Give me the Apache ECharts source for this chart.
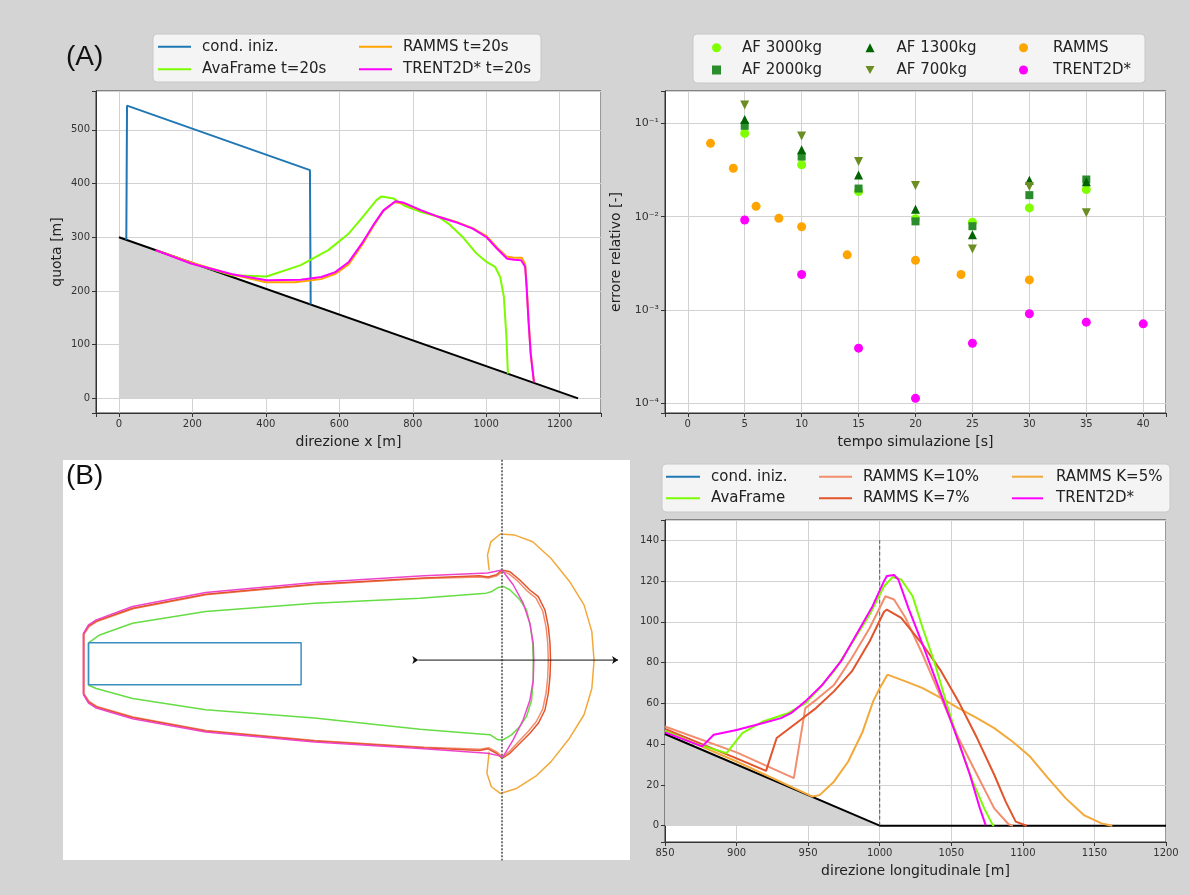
<!DOCTYPE html>
<html><head><meta charset="utf-8">
<script src="https://cdn.jsdelivr.net/npm/echarts@6/dist/echarts.min.js"></script>
<style>html,body{margin:0;padding:0;background:#d4d4d4}#c{width:1189px;height:895px}</style>
</head><body><div id="c"></div>
<script>
// ---------- Panel (A) left: longitudinal profile ----------
const terrainA = [[0,300],[1250,0]];
const condA = [[20,295.2],[22,545],[520,425],[522,174.7]];
const avaA = [[150,264],[196,252],[308,229],[402,227],[495,248],[570,276],[626,307],[664,338],[701,369],[715,376],[748,372],[776,359],[823,347],[870,338],[898,325],[935,301],[973,270],[1001,254],[1024,245],[1038,226],[1048,189],[1055,114],[1059,46]];
const rammsA = [[100,276],[200,252],[300,232],[400,216],[480,216],[550,222],[590,232],[626,250],[664,288],[692,320],[720,349],[750,365],[776,363],[823,350],[870,338],[917,329],[963,317],[1001,302],[1029,281],[1055,264],[1075,262],[1097,262],[1106,250],[1110,210],[1115,150],[1121,85],[1130,30]];
const trentA = [[100,276],[196,251],[308,231],[402,220],[495,221],[551,226],[589,235],[626,254],[664,291],[692,322],[720,350],[753,367],[776,364],[823,350],[870,338],[917,328],[963,316],[1001,300],[1029,279],[1057,260],[1076,258],[1095,257],[1106,245],[1110,207],[1115,145],[1121,83],[1130,30]];

// ---------- Panel (A) right: relative error ----------
const tAF = [5,10,15,20,25,30,35];
const af3000 = [0.078,0.036,0.0186,0.0095,0.0087,0.0124,0.0195];
const af2000 = [0.094,0.044,0.020,0.0089,0.0079,0.017,0.025];
const af1300 = [0.11,0.052,0.028,0.012,0.0064,0.0245,0.0237];
const af700  = [0.157,0.073,0.039,0.0215,0.0045,0.021,0.011];
const tRamms = [2,4,6,8,10,14,20,24,30];
const rammsErr = [0.061,0.033,0.0129,0.0096,0.0078,0.0039,0.0034,0.0024,0.0021];
const tTrent = [5,10,15,20,25,30,35,40];
const trentErr = [0.0092,0.0024,0.00039,0.000113,0.00044,0.00091,0.00074,0.00071];

// ---------- Panel (B) left: plan view outlines ----------
const planInit = [[259,38],[640,38],[640,-37],[259,-37],[259,38]];
const planTrent = [[250,-55],[250,55],[259,70],[273,79],[338,103],[469,128],[664,146],[860,158],[974,163],[1000,168.5],[1020,142],[1038,109],[1050,73],[1056,37],[1057,7],[1056,-29],[1050,-65],[1038,-100],[1020,-136],[1002,-166],[974,-160],[860,-152],[664,-140],[469,-122],[338,-98],[273,-79],[259,-70],[250,-55]];
const planK7 = [[250,-54],[250,54],[259,68],[273,77],[338,100],[469,125],[664,143],[860,154],[960,158],[975,156],[990,160],[1000,168.5],[1014,165.5],[1032,150.6],[1050,132.6],[1065,120.7],[1077,96.8],[1083,66.9],[1086,37.1],[1087,7.2],[1086,-22.7],[1083,-52.6],[1077,-82.4],[1065,-106.3],[1050,-124.2],[1032,-142.2],[1014,-160],[1000,-169],[990,-160],[975,-152],[960,-155],[860,-150],[664,-138],[469,-120],[338,-96],[273,-77],[259,-68],[250,-54]];
const planK10 = [[251,-53],[251,53],[260,67],[274,76],[339,99],[470,124],[665,142],[861,153],[961,156],[976,154],[991,158],[1000,166],[1012,162],[1029,148],[1046,130],[1061,118],[1073,95],[1079,66],[1082,37],[1083,7],[1082,-23],[1079,-52],[1073,-81],[1061,-104],[1046,-122],[1029,-140],[1012,-158],[1000,-166],[991,-158],[976,-150],[961,-153],[861,-149],[665,-137],[470,-119],[339,-95],[274,-76],[260,-67],[251,-53]];
const planAva = [[259,-38],[259,38],[279,52],[338,73],[469,94],[664,109],[853,118],[972,127],[982,130],[993,137],[1002,139],[1014,133],[1032,115],[1044,97],[1051,67],[1055,37],[1056,7],[1056,-29],[1053,-65],[1044,-94],[1032,-112],[1017,-127],[1002,-136],[993,-136],[979,-127],[943,-124],[853,-117],[664,-97],[469,-82],[338,-62],[273,-44],[259,-38]];
const planK5 = [[977,168],[974,195],[980,219],[997,233],[1023,231],[1055,219],[1088,189],[1121,148],[1147,106],[1161,58],[1165,6],[1161,-44],[1147,-91],[1121,-133],[1088,-175],[1062,-200],[1026,-223],[997,-232],[981,-220],[973,-196],[976,-166],[977,-157]];
const planArrow = [[850,7],[1208,7]];
const planSection = [[1000,366],[1000,-352]];

// ---------- Panel (B) right: section profile ----------
const terrainB = [[850,45],[1000,0],[1200,0]];
const sectionB = [[1000,0],[1000,140]];
const avaB = [[850,46.5],[870,40.5],[893,35.6],[904,45.4],[918,51],[936,55.2],[948,60],[958,67.5],[968,75.7],[980,88.9],[993,103.6],[1003,117.5],[1009,122],[1015,120.8],[1023,112.6],[1030,97],[1038,80.7],[1045,64],[1055,41],[1065,21.6],[1073,8.5],[1079,0.3],[1080,0]];
const k10B = [[850,48.7],[900,36],[940,23.3],[948,57.7],[956,62],[968,69],[980.5,82.3],[993,97],[1004,112.6],[1010,111],[1018,102],[1030,84],[1043,62.6],[1055,43],[1068,25],[1080,8.5],[1090,0.7],[1093,0]];
const k7B = [[850,47.5],[900,33],[920.6,26.9],[928,43],[943,51],[955.5,57.7],[968,65.9],[980.5,75.7],[993,90.5],[1003,105],[1005,106],[1015,102],[1030,88.9],[1043,75.7],[1055,61],[1068,43],[1080,25],[1088,11.8],[1095,2],[1102.7,0]];
const k5B = [[850,46.5],[900,31.5],[953,14.3],[958,15],[968,21.6],[978,31.5],[988,46],[995.4,61],[1000,67.5],[1005.4,74.1],[1018,70.8],[1030,67.5],[1043,62.6],[1055,57.7],[1068,52.8],[1080,47.9],[1092.7,41.3],[1105,33.9],[1117.6,23.3],[1130,13.4],[1142.6,5.2],[1155,1.1],[1162.5,0]];
const trentB = [[850,45.8],[876,38.9],[884,44.6],[900,47],[918,50.3],[931,52.8],[938,55.2],[948,61],[960,69.2],[973,80.7],[985,95.4],[995,107.7],[1003,120],[1005,122.5],[1010,123],[1013,120.8],[1020,106.9],[1030,88.9],[1043,64.3],[1055,41.3],[1063,25],[1070,8.5],[1074,0.3]];
const condB = [];

// ---------- texts ----------
const axisNames = {xA:'direzione x [m]', yA:'quota [m]', xE:'tempo simulazione [s]', yE:'errore relativo [-]', xB:'direzione longitudinale [m]'};

const FONT = 'DejaVu Sans';
const COL = {blue:'#1f77b4', ava:'#7cfc00', ramms:'#ffa500', trent:'#ff00ff', k10:'#f28e6e', k7:'#e2542b', k5:'#f3a93a',
  af3000:'#7fff00', af2000:'#2a8c2a', af1300:'#006400', af700:'#6b8e23'};

function stepFmt(step){ return v => (Math.abs(v/step - Math.round(v/step)) < 1e-6 ? String(Math.round(v)) : ''); }
const SUP = {'-':'\u207b','0':'\u2070','1':'\u00b9','2':'\u00b2','3':'\u00b3','4':'\u2074','5':'\u2075','6':'\u2076','7':'\u2077','8':'\u2078','9':'\u2079'};
function logFmt(v){ const l = Math.log10(v); const e = Math.round(l); if (Math.abs(l-e) > 1e-6) return ''; return '10' + String(e).split('').map(c=>SUP[c]).join(''); }
function lab(fmt, size){ return {fontSize:size||10, color:'#333', fontFamily:FONT, margin:6, formatter:fmt}; }

function vAxis(gi, o){
  return Object.assign({
    type:'value', gridIndex:gi,
    axisLine:{show:true, onZero:false, lineStyle:{color:'#333'}},
    axisTick:{show:true, length:4, lineStyle:{color:'#333'}},
    axisLabel:lab(v => String(v)),
    splitLine:{show:true, lineStyle:{color:'#d2d2d2', width:1}},
    nameLocation:'middle',
    nameTextStyle:{fontSize:14, color:'#222', fontFamily:FONT}
  }, o);
}
function hidden(gi, o){ return Object.assign({type:'value', gridIndex:gi, show:false, axisLine:{show:false}, axisTick:{show:false}, axisLabel:{show:false}, splitLine:{show:false}}, o); }

function line(name, data, color, gi, extra){
  return Object.assign({type:'line', name, data, xAxisIndex:gi, yAxisIndex:gi, symbol:'none', showSymbol:false,
    lineStyle:{color, width:2}, itemStyle:{color}, animation:false, silent:true}, extra||{});
}
function zipXY(xs, ys){ return xs.map((x,i)=>[x, ys[i]]); }
function scat(name, xs, ys, color, symbol, size, extra){
  return Object.assign({type:'scatter', name, data:zipXY(xs,ys), xAxisIndex:1, yAxisIndex:1, symbol, symbolSize:size,
    itemStyle:{color, opacity:1}, animation:false, silent:true}, extra||{});
}

const series = [
  // A left
  line('terrainA', terrainA, '#000', 0, {areaStyle:{color:'#d3d3d3', opacity:1}, z:1}),
  line('cond. iniz.', condA, COL.blue, 0),
  line('AvaFrame t=20s', avaA, COL.ava, 0),
  line('RAMMS t=20s', rammsA, COL.ramms, 0),
  line('TRENT2D* t=20s', trentA, COL.trent, 0),
  // A right
  scat('AF 3000kg', tAF, af3000, COL.af3000, 'circle', 9),
  scat('AF 2000kg', tAF, af2000, COL.af2000, 'rect', 8),
  scat('AF 1300kg', tAF, af1300, COL.af1300, 'triangle', 9),
  scat('AF 700kg', tAF, af700, COL.af700, 'triangle', 9, {symbolRotate:180}),
  scat('RAMMS', tRamms, rammsErr, COL.ramms, 'circle', 9),
  scat('TRENT2D*', tTrent, trentErr, COL.trent, 'circle', 9),
  // B left (plan)
  line('plan K5', planK5, COL.k5, 2, {lineStyle:{color:COL.k5, width:1.5}}),
  line('plan Ava', planAva, '#66dd44', 2, {lineStyle:{color:'#66dd44', width:1.5}}),
  line('plan K10', planK10, COL.k10, 2, {lineStyle:{color:COL.k10, width:1.5}}),
  line('plan K7', planK7, COL.k7, 2, {lineStyle:{color:COL.k7, width:1.5}}),
  line('plan Trent', planTrent, '#ee44cc', 2, {lineStyle:{color:'#ee44cc', width:1.5}}),
  line('plan init', planInit, '#3b8fc0', 2, {lineStyle:{color:'#3b8fc0', width:1.5}}),
  line('plan section', planSection, '#777', 2, {lineStyle:{color:'#777', width:2, type:[2,1.5]}}),
  line('plan arrow', planArrow, '#111', 2, {symbol:'arrow', symbolSize:6, symbolRotate:-90, showSymbol:true, lineStyle:{color:'#111', width:1}}),
  // B right
  line('terrainB', terrainB, '#000', 3, {areaStyle:{color:'#d3d3d3', opacity:1}, z:1}),
  line('sectionB', sectionB, '#555', 3, {lineStyle:{color:'#555', width:1, type:'dashed'}}),
  line('cond. iniz. #B', condB, COL.blue, 3),
  line('RAMMS K=5% #B', k5B, COL.k5, 3),
  line('RAMMS K=10% #B', k10B, COL.k10, 3),
  line('RAMMS K=7% #B', k7B, COL.k7, 3),
  line('AvaFrame #B', avaB, COL.ava, 3),
  line('TRENT2D* #B', trentB, COL.trent, 3)
];

function leg(item, left, cy, iw, ih, pad){
  return {data:[item], left, top: cy - 8, orient:'vertical', itemWidth:iw, itemHeight:ih, selectedMode:false,
    padding:0, formatter: n => n.split(' #')[0],
    textStyle:{fontSize:15, color:'#222', fontFamily:FONT, lineHeight:16, padding:[0,0,0,pad]}};
}
function lineLeg(name, left, cy, iw, pad){ return leg({name, icon:'rect'}, left, cy, iw, 2, pad); }
function mkLeg(name, left, cy, pad, icon){ return leg(icon ? {name, icon} : {name}, left, cy, 9, 9, pad); }
const legends = [
  lineLeg('cond. iniz.', 158, 46.7, 33, 6), lineLeg('AvaFrame t=20s', 158, 69.3, 33, 6),
  lineLeg('RAMMS t=20s', 359, 46.7, 33, 6), lineLeg('TRENT2D* t=20s', 359, 69.3, 33, 6),
  mkLeg('AF 3000kg', 712, 47.7, 16), mkLeg('AF 2000kg', 712, 70, 16),
  mkLeg('AF 1300kg', 865.5, 47.7, 17), mkLeg('AF 700kg', 865.5, 70, 17, 'path://M0,0L10,0L5,9Z'),
  mkLeg('RAMMS', 1019, 47.7, 20), mkLeg('TRENT2D*', 1019, 70, 20),
  lineLeg('cond. iniz. #B', 666, 476.7, 34, 6), lineLeg('AvaFrame #B', 666, 498.3, 34, 6),
  lineLeg('RAMMS K=10% #B', 819, 476.7, 33, 6), lineLeg('RAMMS K=7% #B', 819, 498.3, 33, 6),
  lineLeg('RAMMS K=5% #B', 1012, 476.7, 31, 8), lineLeg('TRENT2D* #B', 1012, 498.3, 31, 8)
];

const boxStyle = {fill:'rgba(255,255,255,0.75)', stroke:'#c8c8c8', lineWidth:1};
const option = {
  backgroundColor:'#d4d4d4',
  animation:false,
  grid:[
    {left:96, top:91, width:505, height:322, show:true, backgroundColor:'#fff', borderColor:'#333', borderWidth:1},
    {left:665, top:91, width:501, height:322, show:true, backgroundColor:'#fff', borderColor:'#333', borderWidth:1},
    {left:63, top:460, width:567, height:400, show:true, backgroundColor:'#fff', borderWidth:0},
    {left:665, top:520, width:501, height:322, show:true, backgroundColor:'#fff', borderColor:'#333', borderWidth:1}
  ],
  xAxis:[
    vAxis(0, {min:-62.5, max:1312.5, splitNumber:7, name:axisNames.xA, nameGap:22, axisLabel:lab(stepFmt(200))}),
    vAxis(1, {min:-2, max:42, splitNumber:9, name:axisNames.xE, nameGap:22, axisLabel:lab(stepFmt(5))}),
    hidden(2, {min:213.3, max:1229.4}),
    vAxis(3, {min:850, max:1200, interval:50, name:axisNames.xB, nameGap:22, axisLabel:lab(stepFmt(50))})
  ],
  yAxis:[
    vAxis(0, {min:-27.25, max:572.25, splitNumber:6, name:axisNames.yA, nameGap:32, axisLabel:lab(stepFmt(100))}),
    vAxis(1, {type:'log', logBase:10, min:7.87e-5, max:0.222, name:axisNames.yE, nameGap:42, axisLabel:lab(logFmt, 11)}),
    hidden(2, {min:-351.3, max:365.6}),
    vAxis(3, {min:-8, max:150, splitNumber:8, axisLabel:lab(stepFmt(20))})
  ],
  legend: legends,
  graphic:[
    {type:'rect', shape:{x:153, y:34, width:388, height:48, r:4}, style:boxStyle, z:0},
    {type:'rect', shape:{x:693, y:34, width:452, height:49, r:4}, style:boxStyle, z:0},
    {type:'rect', shape:{x:662, y:464, width:508, height:48, r:4}, style:boxStyle, z:0},
    {type:'text', left:66, top:43, style:{text:'(A)', fontSize:28, fontFamily:'Liberation Sans', fill:'#111'}, z:10},
    {type:'text', left:66, top:462, style:{text:'(B)', fontSize:28, fontFamily:'Liberation Sans', fill:'#111'}, z:10}
  ],
  series
};
const chart = echarts.init(document.getElementById('c'), null, {renderer:'canvas', width:1189, height:895});
chart.setOption(option);
</script></body></html>
